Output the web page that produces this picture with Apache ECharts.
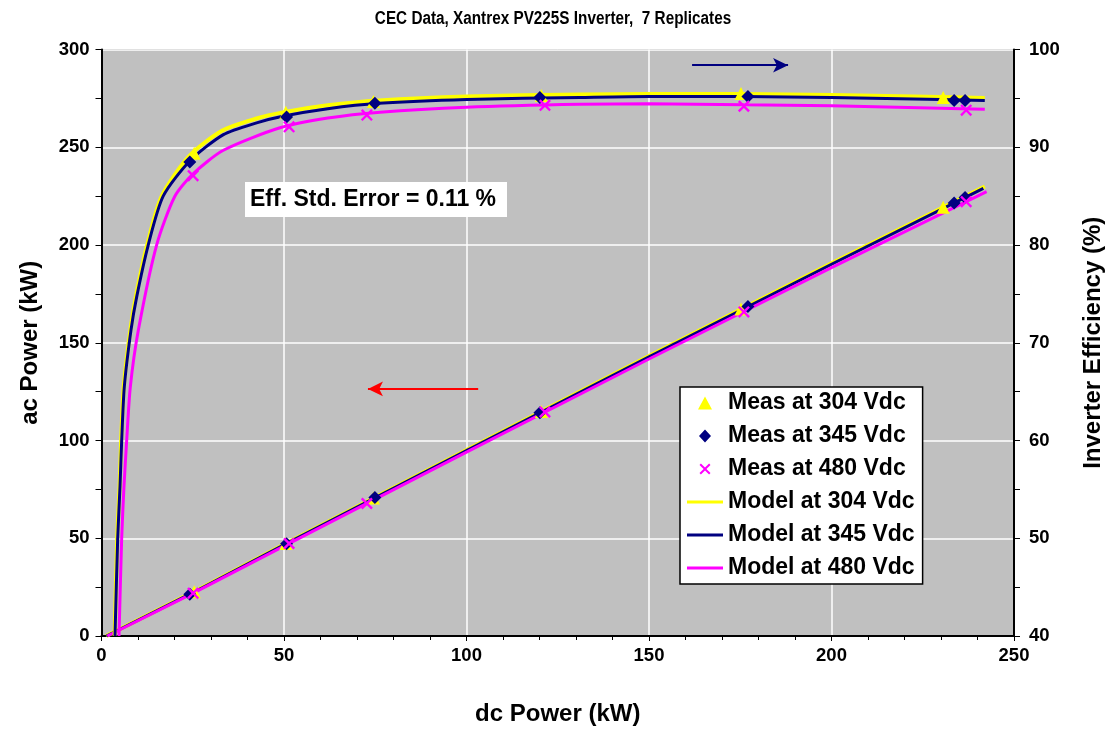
<!DOCTYPE html>
<html><head><meta charset="utf-8">
<script src="https://cdn.jsdelivr.net/npm/echarts@6/dist/echarts.min.js"></script>
<style>html,body{margin:0;padding:0;background:#fff}#c{width:1107px;height:729px}</style>
</head><body><div id="c"></div>
<script>
// ---------- data ----------
const titleText = 'CEC Data, Xantrex PV225S Inverter,  7 Replicates';
const noteText = 'Eff. Std. Error = 0.11 %';
const seriesNamesMeas = ['Meas at 304 Vdc', 'Meas at 345 Vdc', 'Meas at 480 Vdc'];
const seriesNamesModel = ['Model at 304 Vdc', 'Model at 345 Vdc', 'Model at 480 Vdc'];

// measured points (dc kW, ac kW, efficiency %)
const measDc304  = [25.4, 50.5, 74.5, 120.5, 175.2, 230.6];
const measAc304  = [22.7, 47.3, 70.6, 114.8, 167.3, 219.3];
const measEff304 = [89.4, 93.6, 94.7, 95.3, 95.5, 95.1];

const measDc345  = [24.2, 50.7, 74.9, 120.1, 177.1, 233.6, 236.6];
const measAc345  = [21.4, 47.2, 70.8, 114.2, 168.6, 221.5, 224.3];
const measEff345 = [88.5, 93.1, 94.5, 95.1, 95.2, 94.8, 94.8];

const measDc480  = [25.1, 51.4, 72.7, 121.5, 176.0, 236.9];
const measAc480  = [21.9, 47.3, 67.8, 114.6, 165.8, 222.2];
const measEff480 = [87.1, 92.1, 93.3, 94.3, 94.2, 93.8];

// model ac power lines (dc kW -> ac kW)
const modelAcDc304 = [1.3, 25, 50, 100, 150, 200, 242];
const modelAc304   = [0, 22.3, 46.8, 95.2, 143.2, 190.7, 230.0];
const modelAcDc345 = [1.4, 25, 50, 100, 150, 200, 241.6];
const modelAc345   = [0, 22.15, 46.6, 94.9, 142.8, 190.2, 229.0];
const modelAcDc480 = [1.6, 25, 50, 100, 150, 200, 242.5];
const modelAc480   = [0, 21.8, 46.0, 94.1, 141.7, 188.5, 227.3];

// model efficiency curves (dc kW -> efficiency %)
const modelEffDc304 = [3.6, 4.3, 4.95, 5.38, 6.1, 7.9, 9.4, 12.5, 16.5, 24, 33, 42, 50, 62, 76, 100, 131, 150, 176, 200, 230, 242];
const modelEff304   = [40, 50, 55.3, 60, 65.5, 71.3, 74.7, 80, 85, 89.1, 91.7, 92.9, 93.6, 94.3, 94.8, 95.2, 95.4, 95.45, 95.45, 95.35, 95.15, 95.05];
const modelEffDc345 = [3.7, 4.44, 5.07, 5.53, 6.25, 8.08, 9.64, 12.8, 16.9, 24.2, 33.4, 42.5, 50, 62, 76, 100, 131, 150, 176, 200, 230, 242];
const modelEff345   = [40, 50, 55.3, 60, 65.5, 71.3, 74.7, 80, 85, 88.6, 91.3, 92.5, 93.2, 93.95, 94.5, 94.9, 95.1, 95.2, 95.2, 95.1, 94.9, 94.8];
const modelEffDc480 = [4.8, 5.53, 6.16, 6.9, 7.9, 10.1, 15.1, 20.1, 25.1, 33.4, 48.9, 62, 76.3, 100, 131, 150, 176, 200, 230, 242];
const modelEff480   = [40, 50, 55.3, 60, 65.5, 71.3, 80, 85, 87.3, 89.7, 92.0, 93.0, 93.6, 94.1, 94.4, 94.45, 94.35, 94.25, 94.0, 93.9];

// annotation arrows (data coordinates)
const effArrow = [[161.8, 98.4], [188.1, 98.4]];  // right axis
const acArrow  = [[103.2, 126.4], [73.0, 126.4]]; // left axis

// axes
const xMin = 0, xMax = 250, xStep = 50;
const yLMin = 0, yLMax = 300, yLStep = 50;
const yRMin = 40, yRMax = 100, yRStep = 10;

// ---------- chart ----------
const C304 = '#FFFF00', C345 = '#000080', C480 = '#FF00FF';
const xPath = 'path://M0,1.4L1.4,0L5,3.6L8.6,0L10,1.4L6.4,5L10,8.6L8.6,10L5,6.4L1.4,10L0,8.6L3.6,5Z';
// legend icons: padded to the 36x14 legend box so the glyph keeps its shape
const pad = 'M0,7L0.01,7L0,7.01Z M36,7L35.99,7L36,7.01Z ';
const legTri  = 'path://' + pad + 'M11,13.5L18,0.5L25,13.5Z';
const legDia  = 'path://' + pad + 'M18,0.5L24,7L18,13.5L12,7Z';
const legX    = 'path://' + pad + 'M12.5,2L13.9,0.6L18,4.6L22.1,0.6L23.5,2L19.4,6L23.5,10L22.1,11.4L18,7.4L13.9,11.4L12.5,10L16.6,6Z';
const legLine = 'path://' + pad + 'M0,5.4H36V8.6H0Z';
const pairs = (xs, ys) => xs.map((x, i) => [x, ys[i]]);
const FONT = 'Arial, "Liberation Sans", Helvetica, sans-serif';

const lineS = (name, xs, ys, color, width, yIdx, z, smooth) => ({
  name, type: 'line', xAxisIndex: 0, yAxisIndex: yIdx, data: pairs(xs, ys),
  symbol: 'none', showSymbol: false, smooth, z,
  lineStyle: { color, width }, itemStyle: { color }
});
const scatS = (name, xs, ys, color, symbol, size, yIdx, z) => ({
  name, type: 'scatter', xAxisIndex: 0, yAxisIndex: yIdx, data: pairs(xs, ys),
  symbol, symbolSize: size, z, itemStyle: { color, opacity: 1 }
});

const s = [
  lineS(seriesNamesModel[0], modelAcDc304, modelAc304, C304, 4, 0, 2, false),
  lineS(seriesNamesModel[1], modelAcDc345, modelAc345, C345, 3, 0, 2, false),
  lineS(seriesNamesModel[2], modelAcDc480, modelAc480, C480, 3, 0, 2, false),
  lineS(seriesNamesModel[0], modelEffDc304, modelEff304, C304, 4, 1, 2, 0.25),
  lineS(seriesNamesModel[1], modelEffDc345, modelEff345, C345, 3, 1, 2, 0.25),
  lineS(seriesNamesModel[2], modelEffDc480, modelEff480, C480, 3, 1, 2, 0.25),
  scatS(seriesNamesMeas[0], measDc304, measAc304, C304, 'triangle', 13, 0, 4),
  scatS(seriesNamesMeas[1], measDc345, measAc345, C345, 'diamond', 13, 0, 4),
  scatS(seriesNamesMeas[2], measDc480, measAc480, C480, xPath, 12, 0, 4),
  scatS(seriesNamesMeas[0], measDc304, measEff304, C304, 'triangle', 13, 1, 4),
  scatS(seriesNamesMeas[1], measDc345, measEff345, C345, 'diamond', 13, 1, 4),
  scatS(seriesNamesMeas[2], measDc480, measEff480, C480, xPath, 12, 1, 4)
];
s[4].markLine = {
  silent: true, animation: false, symbol: ['none', 'arrow'], symbolSize: [11, 15],
  label: { show: false }, lineStyle: { color: C345, width: 2, type: 'solid' },
  emphasis: { disabled: true },
  data: [[{ coord: effArrow[0] }, { coord: effArrow[1] }]]
};
s[1].markLine = {
  silent: true, animation: false, symbol: ['none', 'arrow'], symbolSize: [11, 15],
  label: { show: false }, lineStyle: { color: '#FF0000', width: 2, type: 'solid' },
  emphasis: { disabled: true },
  data: [[{ coord: acArrow[0] }, { coord: acArrow[1] }]]
};

const tickLabel = { color: '#000', fontFamily: FONT, fontWeight: 'bold', fontSize: 18.5 };
const nameStyle = { color: '#000', fontFamily: FONT, fontWeight: 'bold', fontSize: 24 };
const axisLine = { show: true, lineStyle: { color: '#000', width: 2 } };

const chart = echarts.init(document.getElementById('c'), null, { renderer: 'canvas' });
chart.setOption({
  animation: false,
  backgroundColor: '#fff',
  grid: { left: 101.5, right: 93, top: 49.6, bottom: 93, show: true, containLabel: false,
          outerBoundsMode: 'none',
          backgroundColor: '#C0C0C0', borderColor: '#808080', borderWidth: 1 },
  graphic: [
    { type: 'text', x: 553, y: 19, scaleX: 0.85, z: 10,
      style: { text: titleText, fontSize: 18, fontWeight: 'bold', fontFamily: 'Arial', fill: '#000',
               align: 'center', verticalAlign: 'middle' } },
    { type: 'rect', shape: { x: 245, y: 182, width: 262, height: 35 }, style: { fill: '#fff' }, z: 10 },
    { type: 'text', x: 250, y: 200, z: 11,
      style: { text: noteText, fontSize: 23, fontWeight: 'bold', fontFamily: 'Arial',
               fill: '#000', align: 'left', verticalAlign: 'middle' } }
  ],
  legend: {
    left: 680, top: 387, orient: 'vertical',
    backgroundColor: '#fff', borderColor: '#000', borderWidth: 1.5,
    padding: [4, 8, 4, 7], itemWidth: 36, itemHeight: 14, itemGap: 9,
    textStyle: { color: '#000', fontFamily: FONT, fontWeight: 'bold', fontSize: 23, lineHeight: 24 },
    data: [
      { name: seriesNamesMeas[0], icon: legTri },
      { name: seriesNamesMeas[1], icon: legDia },
      { name: seriesNamesMeas[2], icon: legX },
      { name: seriesNamesModel[0], icon: legLine },
      { name: seriesNamesModel[1], icon: legLine },
      { name: seriesNamesModel[2], icon: legLine }
    ],
    selectedMode: false
  },
  xAxis: {
    type: 'value', min: xMin, max: xMax, interval: xStep,
    name: 'dc Power (kW)', nameLocation: 'middle', nameGap: 66, nameTextStyle: nameStyle,
    axisLine, axisTick: { show: true, length: 5, lineStyle: { color: '#000', width: 1 } },
    minorTick: { show: true, splitNumber: 5, length: 4, lineStyle: { color: '#000', width: 1 } },
    axisLabel: { ...tickLabel, margin: 10 },
    splitLine: { show: true, lineStyle: { color: '#fff', width: 1.5 } }
  },
  yAxis: [
    { type: 'value', min: yLMin, max: yLMax, interval: yLStep, position: 'left',
      name: 'ac Power (kW)', nameLocation: 'middle', nameGap: 59, nameRotate: 90, nameTextStyle: nameStyle,
      axisLine, axisTick: { show: true, length: 6, lineStyle: { color: '#000', width: 1 } },
      minorTick: { show: true, splitNumber: 2, length: 6, lineStyle: { color: '#000', width: 1 } },
      axisLabel: { ...tickLabel, margin: 12 },
      splitLine: { show: true, lineStyle: { color: '#fff', width: 1.5 } } },
    { type: 'value', min: yRMin, max: yRMax, interval: yRStep, position: 'right',
      name: 'Inverter Efficiency (%)', nameLocation: 'middle', nameGap: 67, nameRotate: 90, nameTextStyle: nameStyle,
      axisLine, axisTick: { show: true, length: 6, lineStyle: { color: '#000', width: 1 } },
      minorTick: { show: true, splitNumber: 2, length: 6, lineStyle: { color: '#000', width: 1 } },
      axisLabel: { ...tickLabel, margin: 15 },
      splitLine: { show: false } }
  ],
  series: s
});
</script></body></html>
